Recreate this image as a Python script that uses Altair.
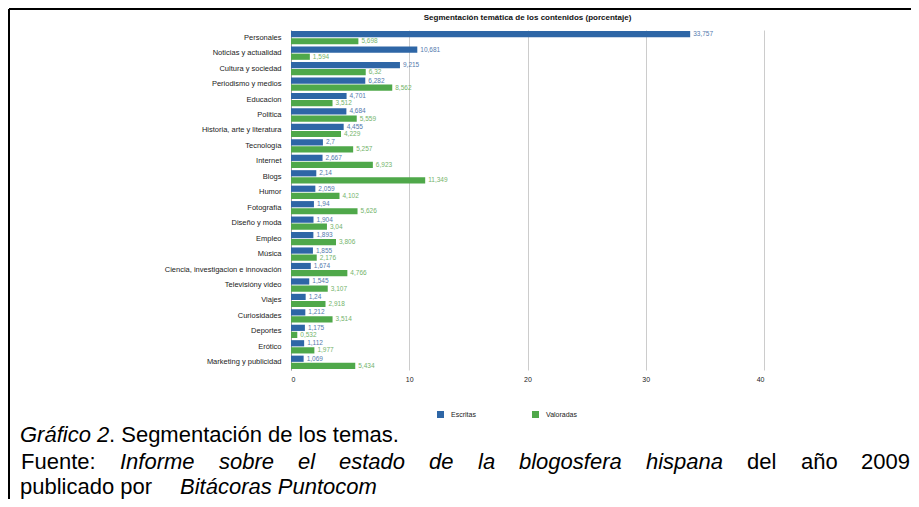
import altair as alt
import pandas as pd

categories = [
    "Personales", "Noticias y actualidad", "Cultura y sociedad", "Periodismo y medios",
    "Educacion", "Politica", "Historia, arte y literatura", "Tecnología", "Internet",
    "Blogs", "Humor", "Fotografía", "Diseño y moda", "Empleo", "Música",
    "Ciencia, investigacion e innovación", "Televisióny video", "Viajes",
    "Curiosidades", "Deportes", "Erótico", "Marketing y publicidad",
]
escritas = [33.757, 10.681, 9.215, 6.282, 4.701, 4.684, 4.455, 2.7, 2.667, 2.14, 2.059,
            1.94, 1.904, 1.893, 1.855, 1.674, 1.545, 1.24, 1.212, 1.175, 1.112, 1.069]
valoradas = [5.698, 1.594, 6.32, 8.562, 3.512, 5.559, 4.229, 5.257, 6.923, 11.349, 4.102,
             5.626, 3.04, 3.806, 2.176, 4.766, 3.107, 2.918, 3.514, 0.532, 1.977, 5.434]
series_names = ["Escritas", "Valoradas"]
x_ticks = [0, 10, 20, 30, 40]

title_text = "Segmentación temática de los contenidos (porcentaje)"

BLUE = "#2e66a6"
GREEN = "#4fa84a"
BLUE_TXT = "#5479ad"
GREEN_TXT = "#74b46b"
FONT = "Liberation Sans"


def fmt(v):
    return repr(v).replace(".", ",")


rows = []
for c, e, v in zip(categories, escritas, valoradas):
    rows.append({"tema": c, "serie": series_names[0], "valor": e, "etiqueta": fmt(e)})
    rows.append({"tema": c, "serie": series_names[1], "valor": v, "etiqueta": fmt(v)})
df = pd.DataFrame(rows)

W, H = 473, 340
OX, OY = 291, 30  # page position of the plot origin
CW, CH = 903, 491  # canvas size
PAD_L, PAD_T = OX - 8, OY - 8

y_enc = alt.Y(
    "tema:N", sort=categories,
    scale=alt.Scale(paddingInner=0.14, paddingOuter=0.07),
    axis=alt.Axis(title=None, domainColor="#999999", ticks=False, labelPadding=10,
                  labelFontSize=7.5, labelColor="#222222", labelLimit=0, labelFont=FONT),
)
x_enc = alt.X(
    "valor:Q", scale=alt.Scale(domain=[0, 40], nice=False),
    axis=alt.Axis(title=None, values=x_ticks, grid=True, gridColor="#cccccc", domain=False,
                  ticks=False, labelFontSize=7, labelPadding=5, labelColor="#222222",
                  labelFont=FONT),
)
yoff = alt.YOffset("serie:N", sort=series_names, scale=alt.Scale(paddingInner=0.12))

bars = alt.Chart(df).mark_bar().encode(
    x=x_enc, y=y_enc, yOffset=yoff,
    color=alt.Color(
        "serie:N", sort=series_names,
        scale=alt.Scale(domain=series_names, range=[BLUE, GREEN]),
        legend=alt.Legend(title=None, orient="none", legendX=146, legendY=381,
                          direction="horizontal", symbolType="square", symbolSize=49,
                          labelFontSize=7, labelOffset=7, columnPadding=56, padding=0,
                          symbolStrokeWidth=0, labelFont=FONT, labelColor="#222222"),
    ),
)

labels = alt.Chart(df).mark_text(align="left", baseline="middle", dx=3, fontSize=6.5,
                                 font=FONT).encode(
    x=x_enc, y=y_enc, yOffset=yoff, text="etiqueta:N",
    color=alt.Color("serie:N", sort=series_names,
                    scale=alt.Scale(domain=series_names, range=[BLUE_TXT, GREEN_TXT]),
                    legend=None),
)

one = pd.DataFrame({"a": [0]})


def txt(text, px, py, italic=False, size=22, align="left", bold=False, color="#000000",
        baseline="alphabetic"):
    return alt.Chart(one).mark_text(
        text=text, align=align, baseline=baseline, fontSize=size, font=FONT,
        fontStyle="italic" if italic else "normal",
        fontWeight="bold" if bold else "normal", color=color,
    ).encode(x=alt.value(px - OX), y=alt.value(py - OY))


title = txt(title_text, OX + W / 2, 18, size=8, align="center", bold=True,
            color="#111111", baseline="middle")

L1, L2, L3 = 442, 469, 494
captions = [
    ("Gráfico 2", 20, L1, True, "left"),
    (". Segmentación de los temas.", 109, L1, False, "left"),
    ("Fuente:", 21, L2, False, "left"),
    ("Informe", 120, L2, True, "left"),
    ("sobre", 219, L2, True, "left"),
    ("el", 298, L2, True, "left"),
    ("estado", 339, L2, True, "left"),
    ("de", 429, L2, True, "left"),
    ("la", 478, L2, True, "left"),
    ("blogosfera", 519, L2, True, "left"),
    ("hispana", 646, L2, True, "left"),
    ("del", 747, L2, False, "left"),
    ("año", 801, L2, False, "left"),
    ("2009", 910, L2, False, "right"),
    ("publicado por", 20, L3, False, "left"),
    ("Bitácoras Puntocom", 180, L3, True, "left"),
]
cap_layers = [txt(t, x, y, italic=i, align=a) for (t, x, y, i, a) in captions]

frame_top = alt.Chart(one).mark_rule(color="#000000", strokeWidth=2).encode(
    x=alt.value(1 - PAD_L), x2=alt.value(CW - PAD_L), y=alt.value(1 - PAD_T))
frame_left = alt.Chart(one).mark_rule(color="#000000", strokeWidth=2).encode(
    x=alt.value(1 - PAD_L), y=alt.value(1 - PAD_T), y2=alt.value(CH - PAD_T))

chart = alt.layer(bars, labels, frame_top, frame_left, title, *cap_layers).resolve_scale(
    color="independent"
).properties(
    width=W, height=H,
    autosize=alt.AutoSizeParams(type="none"),
    padding={"left": PAD_L, "top": PAD_T, "right": CW - PAD_L - W,
             "bottom": CH - PAD_T - H},
).configure(font=FONT, background="white").configure_view(stroke=None)

chart.save("out.html", embed_options={"renderer": "svg", "actions": False})
